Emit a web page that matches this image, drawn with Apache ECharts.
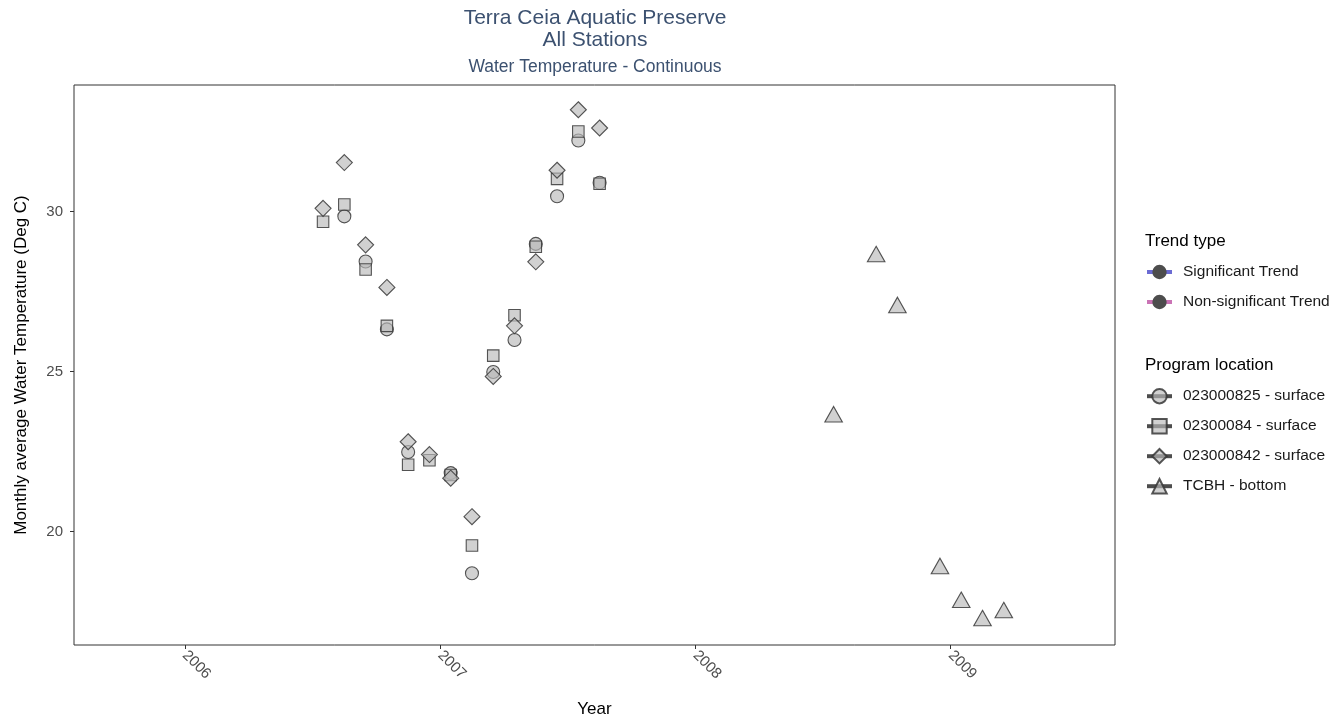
<!DOCTYPE html>
<html>
<head>
<meta charset="utf-8">
<script src="https://cdn.jsdelivr.net/npm/echarts@6/dist/echarts.min.js"></script>
<style>
  html, body { margin: 0; padding: 0; background: #fff; }
  #chart { width: 1341px; height: 723px; }
</style>
</head>
<body>
<div id="chart"></div>
<script>
// Monthly sampling periods (mid-month positions on the year axis)
const surfaceMonths = ['2006-07', '2006-08', '2006-09', '2006-10', '2006-11', '2006-12',
  '2007-01', '2007-02', '2007-03', '2007-04', '2007-05', '2007-06', '2007-07', '2007-08'];
const bottomMonths = ['2008-07', '2008-09', '2008-10', '2008-12', '2009-01', '2009-02', '2009-03'];

// Monthly average water temperature (Deg C) per program location
const temp023000825 = [null, 29.85, 28.44, 26.32, 22.49, null,
  21.83, 18.70, 24.99, 25.99, 28.99, 30.48, 32.22, 30.90];
const temp02300084 = [29.68, 30.22, 28.19, 26.43, 22.09, 22.23,
  21.77, 19.57, 25.50, 26.76, 28.90, 31.02, 32.50, 30.87];
const temp023000842 = [30.10, 31.53, 28.96, 27.63, 22.81, 22.41,
  21.67, 20.47, 24.85, 26.43, 28.43, 31.29, 33.18, 32.61];
const tempTCBH = [23.59, 28.59, 27.00, 18.85, 17.79, 17.22, 17.47];

const trendNames = ['Significant Trend', 'Non-significant Trend'];
const locationNames = ['023000825 - surface', '02300084 - surface', '023000842 - surface', 'TCBH - bottom'];
const yearTicks = [2006, 2007, 2008, 2009];
const tempTicks = [20, 25, 30];

const FONT = '"Liberation Sans", Arial, sans-serif';

function toYear(s) {
  const [y, m] = s.split('-').map(Number);
  return y + (m - 0.5) / 12;
}
function pairs(months, values) {
  return months.map((m, i) => [toYear(m), values[i]]).filter(p => p[1] !== null);
}

const pointStyle = {
  color: 'rgba(185,185,185,0.65)',
  borderColor: 'rgba(55,55,55,0.85)',
  borderWidth: 1.1
};

function locationSeries(name, data, symbol, size, offset) {
  return {
    name: name,
    type: 'line',
    data: data,
    symbol: symbol,
    symbolSize: size,
    symbolOffset: offset || [0, 0],
    showSymbol: true,
    showAllSymbol: true,
    connectNulls: false,
    lineStyle: { opacity: 0, width: 0 },
    itemStyle: pointStyle,
    emphasis: { disabled: true },
    animation: false
  };
}

const chart = echarts.init(document.getElementById('chart'), null, { renderer: 'canvas' });

const titleColor = '#3c5170';
const option = {
  backgroundColor: '#ffffff',
  animation: false,
  textStyle: { fontFamily: FONT },
  graphic: [
    { type: 'text', x: 595, y: 18, style: { text: 'Terra Ceia Aquatic Preserve', align: 'center', verticalAlign: 'middle', font: '21px ' + FONT, fill: titleColor } },
    { type: 'text', x: 595, y: 40, style: { text: 'All Stations', align: 'center', verticalAlign: 'middle', font: '21px ' + FONT, fill: titleColor } },
    { type: 'text', x: 595, y: 67, style: { text: 'Water Temperature - Continuous', align: 'center', verticalAlign: 'middle', font: '17.5px ' + FONT, fill: titleColor } },
    { type: 'text', x: 1145, y: 241, style: { text: 'Trend type', align: 'left', verticalAlign: 'middle', font: '17px ' + FONT, fill: '#000' } },
    { type: 'text', x: 1145, y: 365, style: { text: 'Program location', align: 'left', verticalAlign: 'middle', font: '17px ' + FONT, fill: '#000' } }
  ],
  grid: {
    left: 74, right: 226, top: 85, bottom: 74,
    show: true, borderColor: '#333333', borderWidth: 1, backgroundColor: '#ffffff'
  },
  xAxis: {
    type: 'value',
    min: 2005.566, max: 2009.644,
    name: 'Year', nameLocation: 'middle', nameGap: 56,
    nameTextStyle: { fontSize: 17, color: '#000', fontFamily: FONT },
    axisLine: { show: false },
    splitLine: { show: false },
    axisTick: { show: true, length: 4, lineStyle: { color: '#333' }, customValues: yearTicks },
    axisLabel: {
      customValues: yearTicks, rotate: -45, margin: 8,
      padding: [5, 0, 0, 0],
      fontSize: 15, color: '#4d4d4d', fontFamily: FONT,
      formatter: v => String(Math.round(v))
    }
  },
  yAxis: {
    type: 'value',
    min: 16.461, max: 33.953,
    name: 'Monthly average Water Temperature (Deg C)', nameLocation: 'middle', nameGap: 44,
    nameTextStyle: { fontSize: 17, color: '#000', fontFamily: FONT },
    axisLine: { show: false },
    splitLine: { show: false },
    axisTick: { show: true, length: 4, lineStyle: { color: '#333' }, customValues: tempTicks },
    axisLabel: { customValues: tempTicks, margin: 11, fontSize: 15, color: '#4d4d4d', fontFamily: FONT }
  },
  legend: [
    {
      data: trendNames, orient: 'vertical', left: 1140, top: 259,
      itemWidth: 25, itemHeight: 18, itemGap: 14, selectedMode: false,
      textStyle: { fontSize: 15.5, color: '#1a1a1a', fontFamily: FONT, padding: [0, 0, 0, 6] },
      lineStyle: { width: 4, opacity: 0.75 },
      itemStyle: { color: '#4d4d4d', borderWidth: 0, opacity: 1 }
    },
    {
      data: locationNames, orient: 'vertical', left: 1140, top: 383,
      itemWidth: 25, itemHeight: 18, itemGap: 13.6, selectedMode: false,
      textStyle: { fontSize: 15.5, color: '#1a1a1a', fontFamily: FONT, padding: [0, 0, 0, 6] },
      lineStyle: { width: 4, color: '#4d4d4d', opacity: 1 }
    }
  ],
  series: [
    { name: trendNames[0], type: 'line', data: [], symbol: 'circle', lineStyle: { color: '#3a3ac4', width: 4 }, itemStyle: { color: '#4d4d4d' } },
    { name: trendNames[1], type: 'line', data: [], symbol: 'circle', lineStyle: { color: '#b8449c', width: 4 }, itemStyle: { color: '#4d4d4d' } },
    locationSeries(locationNames[0], pairs(surfaceMonths, temp023000825), 'circle', 13),
    locationSeries(locationNames[1], pairs(surfaceMonths, temp02300084), 'rect', 11.5),
    locationSeries(locationNames[2], pairs(surfaceMonths, temp023000842), 'diamond', [16, 16]),
    locationSeries(locationNames[3], pairs(bottomMonths, tempTCBH), 'triangle', [17.5, 15.5], [0, -2.6])
  ]
};

chart.setOption(option);
</script>
</body>
</html>
